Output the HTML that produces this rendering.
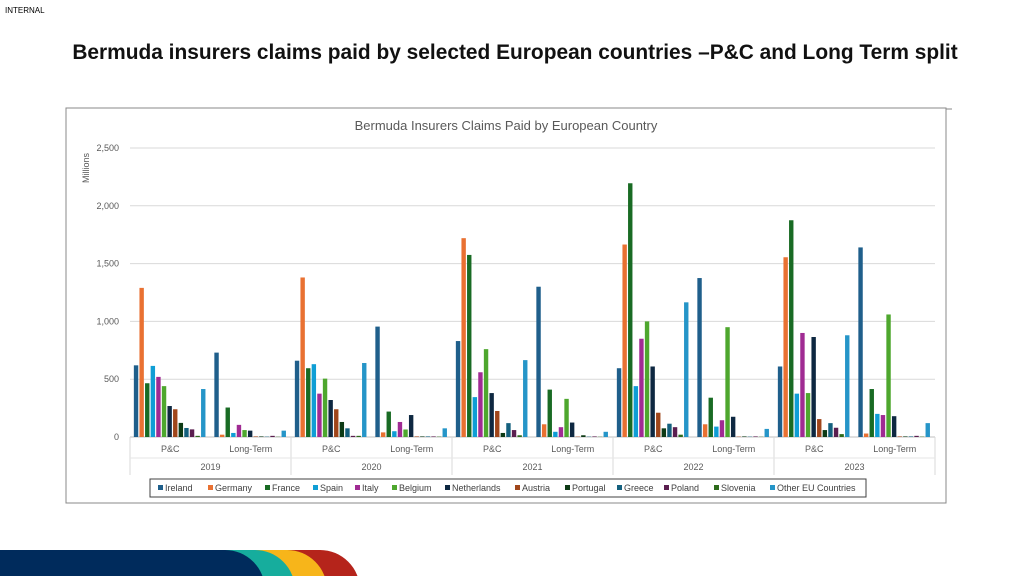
<!DOCTYPE html>
<html><head><meta charset="utf-8"><style>
body{margin:0;width:1024px;height:576px;background:#fff;overflow:hidden;font-family:"Liberation Sans",sans-serif;position:relative}
</style></head><body>
<div style="position:absolute;left:5px;top:6px;font-size:8px;color:#000">INTERNAL</div>
<div style="position:absolute;left:0;width:1030px;top:41px;text-align:center;font-size:20.9px;font-weight:bold;color:#111">Bermuda insurers claims paid by selected European countries –P&amp;C and Long Term split</div>
<svg id="chart" width="1024" height="576" style="position:absolute;left:0;top:0">
<rect x="66" y="108" width="880" height="395" fill="#fff" stroke="#888" stroke-width="1"/>
<line x1="946" y1="109" x2="952" y2="109" stroke="#888"/>
<text x="506" y="130" text-anchor="middle" font-size="13" fill="#595959">Bermuda Insurers Claims Paid by European Country</text>
<text transform="translate(89,168) rotate(-90)" text-anchor="middle" font-size="9" fill="#595959">Millions</text>
<g id="grid"></g><g id="bars"></g><g id="cats"></g><g id="legend"></g>
<g>
<path d="M0 550 H320 A40 40 0 0 1 360 590 V576 H0Z" fill="#b5241b"/>
<path d="M0 550 H287 A40 40 0 0 1 327 590 V576 H0Z" fill="#f7b51a"/>
<path d="M0 550 H255 A40 40 0 0 1 295 590 V576 H0Z" fill="#16ad9d"/>
<path d="M0 550 H225 A40 40 0 0 1 265 590 V576 H0Z" fill="#002b5c"/>
</g>
</svg>
<script>
const series=["Ireland","Germany","France","Spain","Italy","Belgium","Netherlands","Austria","Portugal","Greece","Poland","Slovenia","Other EU Countries"];
const colors=["#1f5f8b","#e97132","#196b24","#0f9ed5","#a02b93","#4ea72e","#0e2841","#a0461b","#0d3a15","#14607e","#5a1e4f","#2d6b1b","#2595c8"];
const years=["2019","2020","2021","2022","2023"];
const types=["P&C","Long-Term"];
const yTicks=[0,500,1000,1500,2000,2500];
const yTickLabels=["0","500","1,000","1,500","2,000","2,500"];
const v2019PC=[620,1290,465,615,520,440,268,240,122,78,66,10,415];
const v2019LT=[730,20,255,35,105,60,55,5,5,3,10,2,55];
const v2020PC=[660,1380,595,630,375,505,320,240,130,75,10,10,640];
const v2020LT=[955,40,220,50,130,65,190,5,5,5,5,3,75];
const v2021PC=[830,1720,1575,345,560,760,380,225,35,120,60,15,665];
const v2021LT=[1300,110,410,45,85,330,125,3,15,3,5,2,45];
const v2022PC=[595,1665,2195,440,850,1000,610,210,75,115,85,20,1165];
const v2022LT=[1375,110,340,90,145,950,175,3,5,3,5,2,70];
const v2023PC=[610,1555,1875,375,900,380,865,155,60,120,80,25,880];
const v2023LT=[1640,30,415,200,190,1060,180,5,5,5,10,3,120];
const groups=[v2019PC,v2019LT,v2020PC,v2020LT,v2021PC,v2021LT,v2022PC,v2022LT,v2023PC,v2023LT];
const NS="http://www.w3.org/2000/svg";
const X0=130,X1=935,Y0=437,Y1=148,MAX=2500;
const yS=v=>Y0-(v/MAX)*(Y0-Y1);
const cw=(X1-X0)/groups.length;
function mk(t,a,p){const e=document.createElementNS(NS,t);for(const k in a)e.setAttribute(k,a[k]);p.appendChild(e);return e;}
const grid=document.getElementById('grid');
yTicks.forEach((t,i)=>{
 const l=mk('line',{x1:X0,x2:X1,y1:yS(t),y2:yS(t),stroke:i==0?'#bfbfbf':'#d9d9d9','stroke-width':1},grid);
 
 
 const tx=mk('text',{x:119,y:yS(t)+3,'text-anchor':'end','font-size':9,fill:'#595959'},grid);tx.textContent=yTickLabels[i];
 
 
});
const bars=document.getElementById('bars');
const pitch=5.6,bw=4.4;
groups.forEach((g,gi)=>{
 const start=X0+gi*cw+(cw-pitch*series.length)/2;
 g.forEach((v,si)=>{
  const r=mk('rect',{x:start+si*pitch,y:yS(v),width:bw,height:Y0-yS(v),fill:colors[si]},bars);
  
  
 });
});
const cats=document.getElementById('cats');
groups.forEach((g,gi)=>{
 const t=mk('text',{x:X0+gi*cw+cw/2,y:452,'text-anchor':'middle','font-size':9,fill:'#595959'},cats);t.textContent=types[gi%2];
 
 
});
years.forEach((y,yi)=>{
 const t=mk('text',{x:X0+yi*2*cw+cw,y:470,'text-anchor':'middle','font-size':9,fill:'#595959'},cats);t.textContent=y;
 
 
});
for(let i=0;i<=years.length;i++){const x=X0+i*2*cw;const l=mk('line',{x1:x,x2:x,y1:Y0,y2:475,stroke:'#d9d9d9'},cats);
 
 }
mk('line',{x1:X0,x2:X1,y1:458,y2:458,stroke:'#e6e6e6'},cats);
const lg=document.getElementById('legend');
const box=mk('rect',{x:150,y:479,width:716,height:18,fill:'#fff',stroke:'#404040'},lg);


const lx=[158,208,265,313,355,392,445,515,565,617,664,714,770];
series.forEach((s,i)=>{
 const g=mk('g',{},lg);
 
 
 mk('rect',{x:lx[i],y:485,width:5,height:5,fill:colors[i]},g);
 const t=mk('text',{x:lx[i]+7,y:491,'font-size':9,fill:'#404040'},g);t.textContent=s;
});
</script>
</body></html>
